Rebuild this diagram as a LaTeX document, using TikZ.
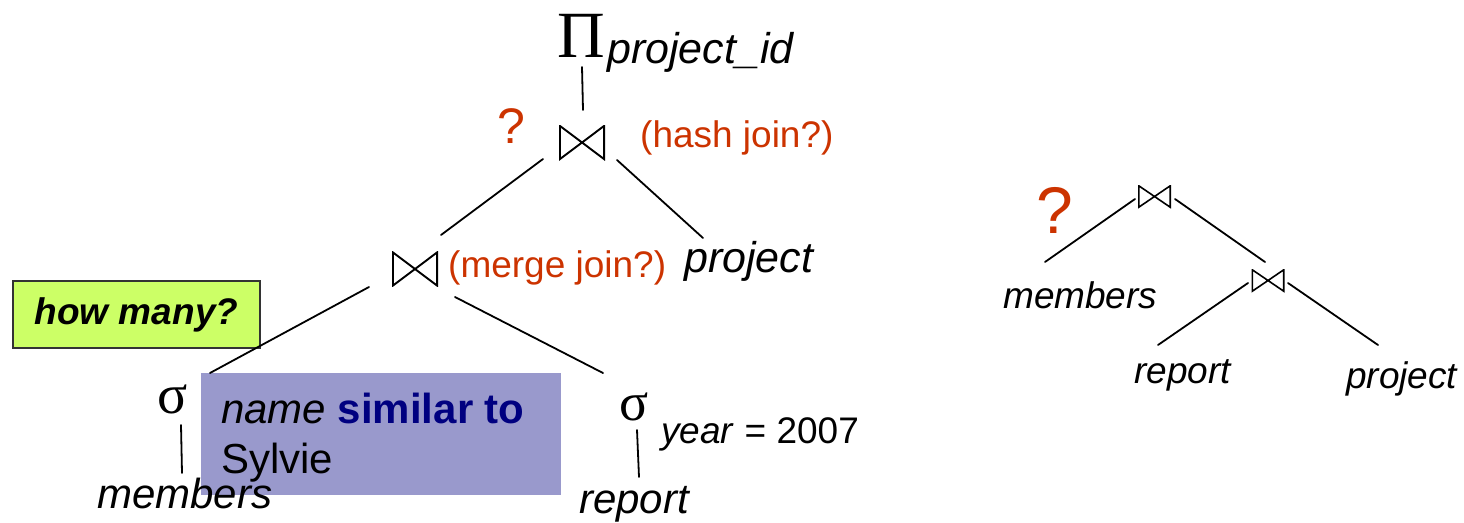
\documentclass[tikz,border=0pt]{standalone}
\usepackage{fontspec}
\setmainfont{Liberation Sans}
\newfontfamily\symfont{Liberation Serif}
\usetikzlibrary{calc}

\definecolor{remark}{HTML}{CC3300}
\definecolor{limebox}{HTML}{CCFF66}
\definecolor{condbox}{HTML}{9999CC}
\definecolor{keyword}{HTML}{000080}

\newcommand{\fs}[1]{\fontsize{#1}{#1}\selectfont}

\tikzset{
  edge/.style={line width=1.8pt, line cap=round},
  rel/.style={inner sep=0pt, anchor=base west, font=\fs{#1}\itshape},
  op/.style={inner sep=0pt, anchor=base, font=\fs{#1}\symfont},
  note/.style={inner sep=0pt, anchor=base west, text=remark, font=\fs{#1}},
  bowtie/.style args={#1x#2/#3}{inner sep=0pt, minimum width=#1pt, minimum height=#2pt,
    path picture={\draw[line width=#3pt, line join=miter]
      ([shift={(0.5*#3pt,-0.5*#3pt)}]path picture bounding box.north west) --
      ([shift={(-0.5*#3pt,0.5*#3pt)}]path picture bounding box.south east) --
      ([shift={(-0.5*#3pt,-0.5*#3pt)}]path picture bounding box.north east) --
      ([shift={(0.5*#3pt,0.5*#3pt)}]path picture bounding box.south west) -- cycle;}},
}

\begin{document}
\begin{tikzpicture}[x=1pt, y=-1pt]
\useasboundingbox (0,0) rectangle (1464,522);

% ---------- plan on the left ----------
\node[op=66] (pi) at (581.5,57) {Π};
\node[rel=43] (pisub) at (607,63) {project\_id};
\node[note=50] (q1) at (497,143) {?};
\node[bowtie=46x35/1.9] (j1) at (582,142.5) {};
\node[note=37] (hash) at (640,147) {(hash join?)};

\node[bowtie=46x35/1.9] (j2) at (415,269) {};
\node[note=37] (merge) at (448,277) {(merge join?)};
\node[rel=43] (proj) at (684,272) {project};

\node[draw=black!80, line width=1.6pt, fill=limebox, minimum width=247pt, minimum height=67pt,
      inner sep=0pt, font=\fs{37}\bfseries\itshape] (hm) at (136.5,314.5) {how many?};

\node[fill=condbox, minimum width=360pt, minimum height=122pt, inner sep=0pt] (cond) at (381,434) {};
\node[inner sep=0pt, anchor=base west, font=\fs{42}] (cond1) at (221,423)
  {\textit{name} \textcolor{keyword}{\textbf{similar to}}};
\node[inner sep=0pt, anchor=base west, font=\fs{42}] (cond2) at (221,473) {Sylvie};

\node[op=56] (s1) at (172.5,413) {σ};
\node[rel=42] (mem1) at (97,508) {members};

\node[op=54] (s2) at (634,420) {σ};
\node[inner sep=0pt, anchor=base west, font=\fs{37}] (yr) at (661,443) {\textit{year} = 2007};
\node[rel=42] (rep1) at (579,513) {report};

\draw[edge] ($(pi.base)+(0.5,10)$) -- ($(j1.center)+(1,-32.5)$);
\draw[edge] ($(j1.center)+(-39,16.5)$) -- ($(j2.center)+(26,-34)$);
\draw[edge] ($(j1.center)+(35,17.5)$) -- ($(proj.base west)+(19,-34)$);
\draw[edge] ($(j2.center)+(-46,18)$) -- ($(s1.base)+(37.5,-40)$);
\draw[edge] ($(j2.center)+(40,28)$) -- ($(s2.base)+(-31,-47)$);
\draw[edge] ($(s1.base)+(8.5,12)$) -- ($(mem1.base west)+(85,-35)$);
\draw[edge] ($(s2.base)+(3,10)$) -- ($(rep1.base west)+(60,-36)$);

% ---------- plan on the right ----------
\node[note=66] (q2) at (1036,233) {?};
\node[bowtie=33x23/1.6] (k1) at (1154.5,196.5) {};
\node[bowtie=33x23/1.6] (k2) at (1268,280.5) {};
\node[rel=37] (mem2) at (1003,308) {members};
\node[rel=37] (rep2) at (1134,383) {report};
\node[rel=37] (proj2) at (1346,388) {project};

\draw[edge] ($(k1.center)+(-19.5,2.5)$) -- ($(mem2.base west)+(42,-46)$);
\draw[edge] ($(k1.center)+(20.5,2.5)$) -- ($(k2.center)+(-3,-18.5)$);
\draw[edge] ($(k2.center)+(-20,2.5)$) -- ($(rep2.base west)+(24,-38)$);
\draw[edge] ($(k2.center)+(20,2.5)$) -- ($(proj2.base west)+(32,-43)$);
\end{tikzpicture}
\end{document}
